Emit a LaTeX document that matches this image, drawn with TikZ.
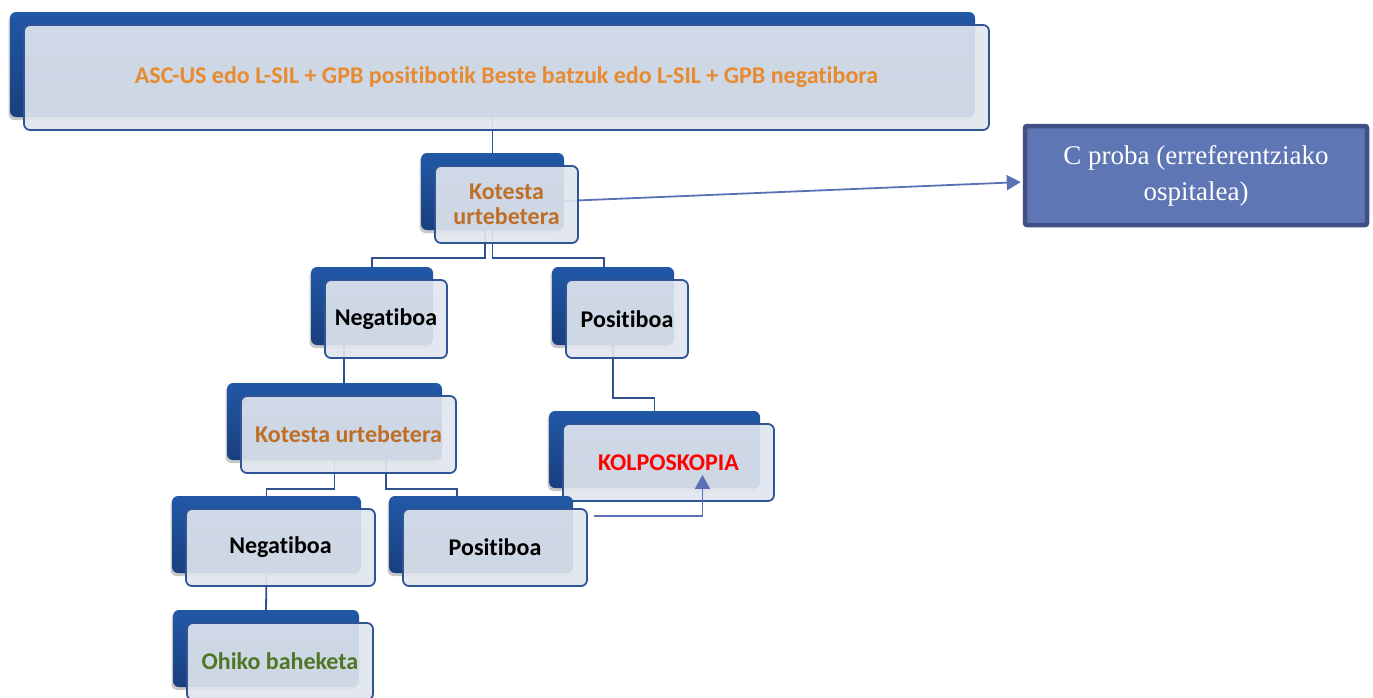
\documentclass[tikz,border=0pt]{standalone}
\usepackage{fontspec}
\setmainfont{Carlito}[RawFeature={-liga}]
\newfontfamily\procfont{Liberation Serif}
\usetikzlibrary{arrows.meta,shadows,calc}
\pgfdeclarelayer{links}
\pgfsetlayers{links,main}

\definecolor{backtop}{RGB}{33,88,166}
\definecolor{backbot}{RGB}{25,63,126}
\definecolor{frontfill}{RGB}{224,230,238}
\definecolor{frontline}{RGB}{47,85,151}
\definecolor{linkblue}{RGB}{47,82,143}
\definecolor{arrowblue}{RGB}{90,113,181}
\definecolor{procfill}{RGB}{95,118,180}
\definecolor{procline}{RGB}{64,79,132}
\definecolor{orangeA}{RGB}{232,138,46}
\definecolor{brownA}{RGB}{190,110,38}
\definecolor{greenA}{RGB}{79,118,36}

\tikzset{
  backbox/.style={rectangle, rounded corners=6pt, inner sep=0pt, draw=none,
    top color=backtop, bottom color=backbot,
    drop shadow={shadow xshift=-1.5pt, shadow yshift=-3pt, opacity=0.22, fill=black}},
  frontbox/.style={rectangle, rounded corners=6pt, inner sep=0pt,
    draw=frontline, line width=1.8pt, fill=frontfill, fill opacity=0.91,
    text opacity=1, align=center,
    font=\bfseries\fontsize{24}{25}\selectfont},
  procbox/.style={rectangle, rounded corners=2pt, inner sep=0pt,
    draw=procline, line width=4.5pt, fill=procfill, text=white, align=center,
    font=\procfont\fontsize{27}{36}\selectfont},
  link/.style={draw=linkblue, line width=1.8pt},
  pointer/.style={draw=arrowblue, line width=1.8pt,
    -{Triangle[length=14pt,width=15pt]}}
}

% a card: shaded back plate plus a light front panel carrying the text
% #1 name, #2/#3 left/top of the back plate, #4/#5 size, #6 text options, #7 text
\newcommand\card[7]{%
  \node[backbox, minimum width=#4pt, minimum height=#5pt]
    (#1B) at ({#2+#4/2},{#3+#5/2}) {};
  \node[frontbox, minimum width=#4pt, minimum height=#5pt, #6]
    (#1F) at ({#2+#4/2+14},{#3+#5/2+13}) {#7};
}

\begin{document}
\begin{tikzpicture}[x=1pt,y=-1pt]
\useasboundingbox (0,0) rectangle (1373,697);

\card{top}{10}{12}{965}{105}{text=orangeA, font=\bfseries\fontsize{24}{26}\selectfont}{ASC-US edo L-SIL + GPB positibotik Beste batzuk edo L-SIL + GPB negatibora}
\card{kotA}{421}{153}{143}{77}{text=brownA}{Kotesta\\urtebetera}
\card{negA}{311}{267}{122}{78}{}{Negatiboa}
\card{posA}{552}{267}{122}{78}{}{Positiboa}
\card{kotB}{227}{383}{215}{77}{text=brownA}{Kotesta urtebetera}
\card{kolp}{549}{411}{211}{77}{text=red}{KOLPOSKOPIA}
\card{negB}{172}{496}{189}{77}{}{Negatiboa}
\card{posB}{389}{496}{184}{77}{}{Positiboa}
\card{ohiko}{173}{610}{186}{77}{text=greenA}{Ohiko baheketa}

\node[procbox, minimum width=342pt, minimum height=99pt] (cproba) at (1196,175.5)
  {C proba (erreferentziako\\ospitalea)};

\begin{pgfonlayer}{links}
  \draw[link] (topB.south) -- (kotAB.north);
  \draw[link] ([xshift=-7.5pt]kotAB.south) -- ++(0,28) -| (negAB.north);
  \draw[link] (kotAB.south) -- ++(0,28) -| ([xshift=-9pt]posAB.north);
  \draw[link] ([xshift=-28pt]negAB.south) -- ([xshift=-28pt]negAB.south |- kotBB.north);
  \draw[link] (posAB.south) -- ++(0,53) -| (kolpB.north);
  \draw[link] (kotBB.south) -- ++(0,29) -| (negBB.north);
  \draw[link] ([xshift=51.5pt]kotBB.south) -- ++(0,29) -| ([xshift=-24pt]posBB.north);
  \draw[link] (negBB.south) -- (ohikoB.north);
  \draw[pointer, shorten >=2pt] ([yshift=-9.5pt]kotAB.east) -- ([yshift=-6.5pt]cproba.west);
\end{pgfonlayer}

\coordinate (posBout) at ([xshift=6pt,yshift=-8pt]posBF.north east);
\draw[pointer] (posBout) -| ([xshift=34pt,yshift=27pt]kolpF.south);
\end{tikzpicture}
\end{document}
